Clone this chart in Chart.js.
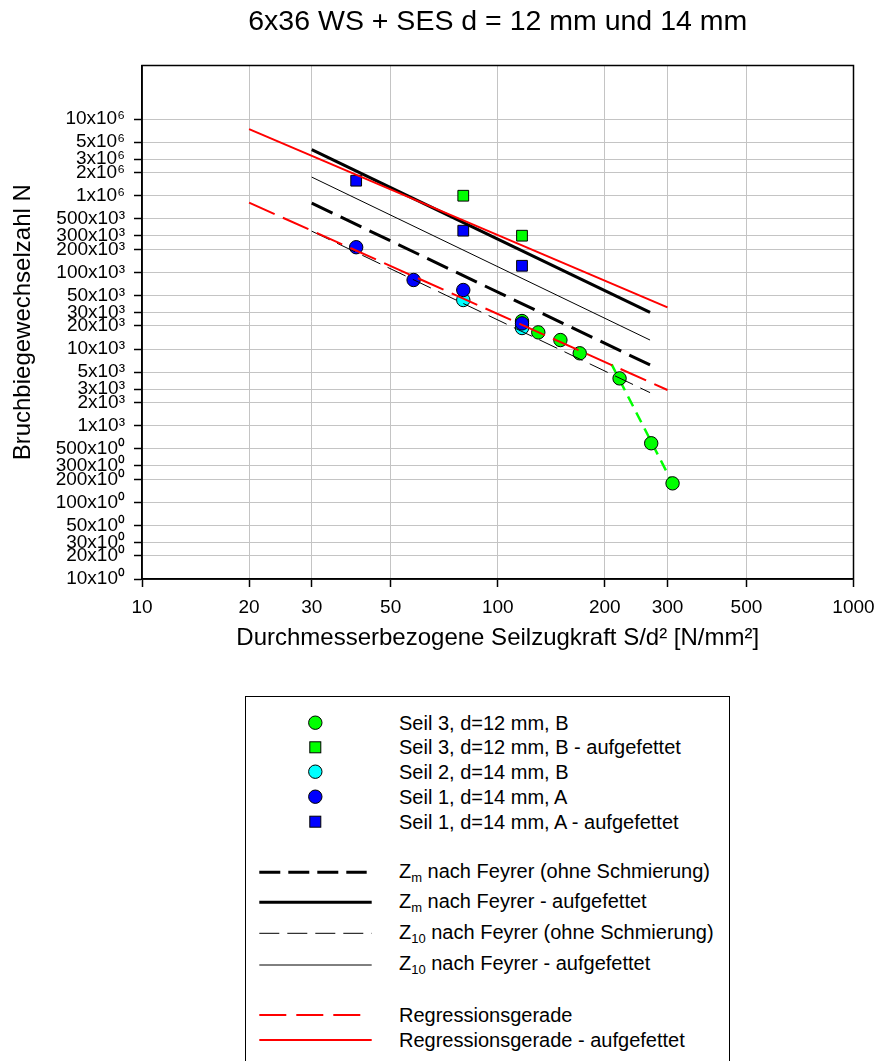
<!DOCTYPE html>
<html>
<head>
<meta charset="utf-8">
<script src="https://cdn.jsdelivr.net/npm/chart.js@4.4.1/dist/chart.umd.min.js"></script>
<style>
html,body{margin:0;padding:0;background:#fff;}
#wrap{position:relative;width:877px;height:1061px;overflow:hidden;font-family:Arial,"Liberation Sans",sans-serif;color:#000;}
#chart{position:absolute;left:0;top:0;}
#legend{position:absolute;left:245px;top:696px;width:485px;height:400px;border:1px solid #000;box-sizing:border-box;background:#fff;}
#legend svg{position:absolute;left:0;top:0;}
.lt{position:absolute;left:153px;height:24px;line-height:24px;font-size:20px;white-space:nowrap;}
.sub{font-size:13px;position:relative;top:4px;}
</style>
</head>
<body>
<div id="wrap">
<canvas id="chart" width="877" height="680"></canvas>
<div id="legend">
<svg width="485" height="400" xmlns="http://www.w3.org/2000/svg">
  <circle cx="69.3" cy="25.7" r="6.7" fill="#00ff00" stroke="#000" stroke-width="1"/>
  <rect x="63.8" y="44.8" width="11" height="11" fill="#00ff00" stroke="#000" stroke-width="1"/>
  <circle cx="69.3" cy="74.7" r="6.7" fill="#00ffff" stroke="#000" stroke-width="1"/>
  <circle cx="69.3" cy="99.7" r="6.7" fill="#0000ff" stroke="#000" stroke-width="1"/>
  <rect x="63.8" y="119.2" width="11" height="11" fill="#0000ff" stroke="#000" stroke-width="1"/>
  <line x1="13.3" y1="175.3" x2="120.7" y2="175.3" stroke="#000" stroke-width="3" stroke-dasharray="21 8"/>
  <line x1="13.3" y1="205.3" x2="125.7" y2="205.3" stroke="#000" stroke-width="3"/>
  <line x1="13.3" y1="236.3" x2="125.7" y2="236.3" stroke="#000" stroke-width="1" stroke-dasharray="20 8"/>
  <line x1="13.3" y1="268" x2="125.7" y2="268" stroke="#000" stroke-width="1"/>
  <line x1="13.3" y1="318" x2="114.7" y2="318" stroke="#ff0000" stroke-width="2" stroke-dasharray="27 10"/>
  <line x1="13.3" y1="343" x2="125.7" y2="343" stroke="#ff0000" stroke-width="2"/>
</svg>
<div class="lt" style="top:13.7px">Seil 3, d=12 mm, B</div>
<div class="lt" style="top:38.3px">Seil 3, d=12 mm, B - aufgefettet</div>
<div class="lt" style="top:62.7px">Seil 2, d=14 mm, B</div>
<div class="lt" style="top:87.7px">Seil 1, d=14 mm, A</div>
<div class="lt" style="top:112.7px">Seil 1, d=14 mm, A - aufgefettet</div>
<div class="lt" style="top:162px">Z<span class="sub">m</span> nach Feyrer (ohne Schmierung)</div>
<div class="lt" style="top:192px">Z<span class="sub">m</span> nach Feyrer - aufgefettet</div>
<div class="lt" style="top:222.7px">Z<span class="sub">10</span> nach Feyrer (ohne Schmierung)</div>
<div class="lt" style="top:254.3px">Z<span class="sub">10</span> nach Feyrer - aufgefettet</div>
<div class="lt" style="top:306px">Regressionsgerade</div>
<div class="lt" style="top:331px">Regressionsgerade - aufgefettet</div>
</div>
</div>
<script>
// ---- data ----
const xTickValues = [10, 20, 30, 50, 100, 200, 300, 500, 1000];
const yTickValues = [10, 20, 30, 50, 100, 200, 300, 500, 1e3, 2e3, 3e3, 5e3, 1e4, 2e4, 3e4, 5e4, 1e5, 2e5, 3e5, 5e5, 1e6, 2e6, 3e6, 5e6, 1e7];
const yTickLabels = ['10x10⁰','20x10⁰','30x10⁰','50x10⁰','100x10⁰','200x10⁰','300x10⁰','500x10⁰',
  '1x10³','2x10³','3x10³','5x10³','10x10³','20x10³','30x10³','50x10³','100x10³','200x10³','300x10³','500x10³',
  '1x10⁶','2x10⁶','3x10⁶','5x10⁶','10x10⁶'];

// Seil 3, d=12 mm, B
const seil3X = [117, 130, 150, 170, 220, 270, 310];
const seil3Y = [23200, 16500, 13100, 8800, 4140, 590, 177];
// Seil 3, d=12 mm, B - aufgefettet
const seil3AufgX = [80, 117];
const seil3AufgY = [1000000, 301000];
// Seil 2, d=14 mm, B
const seil2X = [80, 117];
const seil2Y = [43600, 18800];
// Seil 1, d=14 mm, A
const seil1X = [40, 58, 80, 117];
const seil1Y = [213000, 79600, 58900, 21600];
// Seil 1, d=14 mm, A - aufgefettet
const seil1AufgX = [40, 80, 117];
const seil1AufgY = [1570000, 350000, 122000];

// Feyrer lines
const zmOhneX = [30, 268];   const zmOhneY = [800000, 6200];
const zmAufgX = [30, 268];   const zmAufgY = [4000000, 30000];
const z10OhneX = [30, 268];  const z10OhneY = [345000, 2700];
const z10AufgX = [30, 268];  const z10AufgY = [1750000, 13100];
// Regression lines
const regrX = [20, 300];     const regrY = [813000, 2920];
const regrAufgX = [20, 300]; const regrAufgY = [7380000, 35000];
// steep part of Seil 3
const seil3FitX = [209, 310]; const seil3FitY = [6300, 177];

// ---- chart ----
const pts = (xs, ys) => xs.map((x, i) => ({x: x, y: ys[i]}));
function lineDs(label, xs, ys, color, width, dash, order) {
  return {label, data: pts(xs, ys), showLine: true, borderColor: color, borderWidth: width,
    borderDash: dash, pointRadius: 0, pointHoverRadius: 0, fill: false, tension: 0, order: order};
}
function pointDs(label, xs, ys, color, style, radius, order) {
  return {label, data: pts(xs, ys), showLine: false, backgroundColor: color, borderColor: '#000',
    borderWidth: 1, pointStyle: style, pointRadius: radius, pointHoverRadius: radius, order: order};
}

const framePlugin = {
  id: 'frame',
  afterDraw(chart) {
    const a = chart.chartArea, c = chart.ctx;
    c.save();
    c.strokeStyle = '#000';
    c.lineWidth = 1.5;
    c.strokeRect(a.left, a.top, a.right - a.left, a.bottom - a.top);
    c.restore();
  }
};

const FONT = 'Arial, "Liberation Sans", sans-serif';
const CANVAS_H = 680;
const X_AXIS_H = 74;
const PLOT_BOTTOM = 579;

new Chart(document.getElementById('chart'), {
  type: 'scatter',
  data: {
    datasets: [
      lineDs('Regressionsgerade - aufgefettet', regrAufgX, regrAufgY, '#ff0000', 2, [], 0),
      lineDs('Regressionsgerade', regrX, regrY, '#ff0000', 2, [28, 9], 1),
      lineDs('Zm nach Feyrer - aufgefettet', zmAufgX, zmAufgY, '#000000', 3, [], 2),
      lineDs('Zm nach Feyrer (ohne Schmierung)', zmOhneX, zmOhneY, '#000000', 3, [23, 9], 3),
      lineDs('Z10 nach Feyrer - aufgefettet', z10AufgX, z10AufgY, '#000000', 1, [], 4),
      lineDs('Z10 nach Feyrer (ohne Schmierung)', z10OhneX, z10OhneY, '#000000', 1, [20, 8], 5),
      pointDs('Seil 1, d=14 mm, A - aufgefettet', seil1AufgX, seil1AufgY, '#0000ff', 'rect', 7.6, 10),
      pointDs('Seil 1, d=14 mm, A', seil1X, seil1Y, '#0000ff', 'circle', 6.7, 11),
      pointDs('Seil 2, d=14 mm, B', seil2X, seil2Y, '#00ffff', 'circle', 6.7, 12),
      pointDs('Seil 3, d=12 mm, B - aufgefettet', seil3AufgX, seil3AufgY, '#00ff00', 'rect', 7.6, 13),
      pointDs('Seil 3, d=12 mm, B', seil3X, seil3Y, '#00ff00', 'circle', 6.7, 14),
      lineDs('Seil 3 fit', seil3FitX, seil3FitY, '#00ff00', 2.5, [11, 7], 15)
    ]
  },
  options: {
    responsive: false,
    animation: false,
    layout: {padding: {left: 0, top: 0, right: 23.5, bottom: CANVAS_H - PLOT_BOTTOM - X_AXIS_H}},
    plugins: {
      legend: {display: false},
      tooltip: {enabled: false},
      title: {
        display: true,
        text: '6x36 WS + SES d = 12 mm und 14 mm',
        fullSize: false,
        color: '#000',
        font: {family: FONT, size: 28.5, weight: 'normal'},
        padding: {top: 4.9, bottom: 26.4}
      }
    },
    scales: {
      x: {
        type: 'logarithmic',
        position: 'bottom',
        min: 10, max: 1000,
        afterBuildTicks: (s) => { s.ticks = xTickValues.map(v => ({value: v})); },
        afterFit: (s) => { s.height = X_AXIS_H; s.paddingLeft = 0; s.paddingRight = 0; },
        ticks: {
          autoSkip: false, maxRotation: 0, minRotation: 0, padding: 9, color: '#000',
          font: {family: FONT, size: 19},
          callback: (v) => String(v)
        },
        grid: {color: '#c4c4c4', lineWidth: 1, tickColor: '#000', tickLength: 8, tickWidth: 1.5},
        border: {display: true, color: '#000', width: 1.5},
        title: {
          display: true,
          text: 'Durchmesserbezogene Seilzugkraft S/d² [N/mm²]',
          color: '#000',
          font: {family: FONT, size: 24},
          padding: {top: 0, bottom: 0}
        }
      },
      y: {
        type: 'logarithmic',
        position: 'left',
        min: 10, max: 5e7,
        afterBuildTicks: (s) => { s.ticks = yTickValues.map(v => ({value: v})); },
        afterFit: (s) => { s.width = 142; s.paddingTop = 0; s.paddingBottom = 0; },
        ticks: {
          autoSkip: false, padding: 9, color: '#000',
          font: {family: FONT, size: 19},
          callback: (v) => { const i = yTickValues.indexOf(v); return i >= 0 ? yTickLabels[i] : ''; }
        },
        grid: {color: '#c4c4c4', lineWidth: 1, tickColor: '#000', tickLength: 8, tickWidth: 1.5},
        border: {display: true, color: '#000', width: 1.5},
        title: {
          display: true,
          text: 'Bruchbiegewechselzahl N',
          color: '#000',
          font: {family: FONT, size: 24},
          padding: {top: 9, bottom: 0}
        }
      }
    }
  },
  plugins: [framePlugin]
});
</script>
</body>
</html>
